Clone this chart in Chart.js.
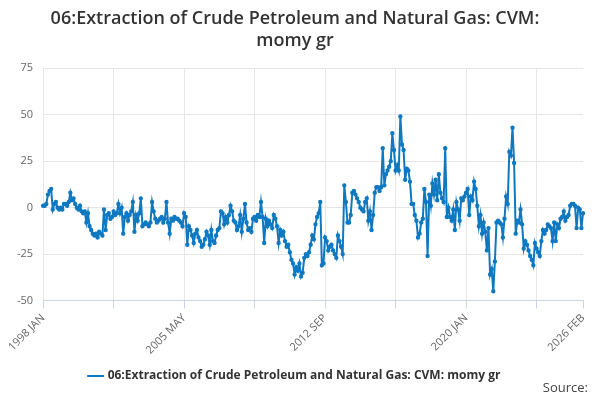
<!DOCTYPE html>
<html>
<head>
<meta charset="utf-8">
<script src="https://cdn.jsdelivr.net/npm/chart.js@4/dist/chart.umd.min.js"></script>
<style>
  html, body { margin: 0; padding: 0; background: #fff; }
  #wrap { position: relative; width: 600px; height: 400px; }
  #source { position: absolute; right: 12px; bottom: 4px; font: 13px "Open Sans", sans-serif; color: #444; }
</style>
</head>
<body>
<div id="wrap">
  <canvas id="chart" width="600" height="400"></canvas>
  <div id="source">Source:</div>
</div>
<script>
const monthNames = ['JAN', 'FEB', 'MAR', 'APR', 'MAY', 'JUN', 'JUL', 'AUG', 'SEP', 'OCT', 'NOV', 'DEC']
const startYear = 1998
const shownTicks = ['1998 JAN', '2005 MAY', '2012 SEP', '2020 JAN', '2026 FEB']

// monthly values, 1998 JAN .. 2026 FEB
const values1998to2005 = [
  1, 1, 2, 7, 9, 10, -1, 2, 3, 0, -1, 0, -1,
  2, 2, 1, 3, 8, 4, 5, 2, 0, -1, 1,
  -2, -3, -2, -8, -3, -10, -12, -14, -15, -14, -16, -13, -14, -15,
  -1, -12, -4, -3, -6, -5, -2, -4, -3, 2, -3, 0,
  -14, -5, -3, -7, -4, -2, 3, -13, -4, -7, -3, 5, -10,
  -9, -8, -9, -10, -8, 3, -2, -6, -8, -7, -6, -5, -8,
  -6, 3, -8, -14, -6, -7, -5, -6, -6, -7, -8, -10
]
const values2005to2013 = [
  -3, -5, -20, -10, -12, -15, -19, -14, -12, -16, -18, -21, -20, -17, -13,
  -15, -20, -12, -18, -19, -15, -12, -11, -2, -3, -9, -5, -8, -4, 1, -2, -7,
  -8, -12, -10, -4, -13, -6, 2, -8, -12, -11, -13, -6, -5, -7, -4, -5, 3, -5,
  -19, -6, -10, -7, -9, -11, -4, -6, -10, -19, -12, -15, -13, -18, -21, -20, -24,
  -28, -30, -36, -32, -34, -30, -37, -35, -27, -25, -26, -24, -20,
  -15, -17, -9, -5, -3, 3, -31, -30, -16, -18, -23, -21, -20, -23
]
const values2013to2019 = [
  -25, -27, -15, -18, -21, -25, 12, 3, -8, -8, -4, 8, 9, 7, 5, 3, 0, -1, -2, 3,
  5, -7, -2, -12, -4, 8, 11, 11, 9, 11, 32, 12, 18, 20, 22, 25, 40, 31, 20, 23,
  20, 49, 34, 31, 15, 21, 20, 14, 2, 2, -4, -7, -16, -14, -8, -6, 10, 3, -26, 7,
  1, 13, 7, 15, 4, 18, 8, 5, 3, 32, -5, 0, -5, -7, -1, -12, 3, -1, -7
]
const values2019to2026 = [
  5, 4, 6, 8, 10, -4, 6, 4, 14, 10, 1, -10, -4, -14, -8, -13, -23, -11, -36, -33,
  -45, -29, -8, -7, -8, -9, -16, -6, 6, 2, 30, 28, 43, 24, -14, -7, -8, -1, -9, -22,
  -18, -20, -23, -26, -28, -31, -19, -22, -24, -26, -18, -12, -14, -12, -9, -10, -11, -18,
  -8, -18, -9, -11, -6, -5, -2, -7, -5, -4, 1, 2, 2, 1, -11, 0, -1, -11, -3
]
const seriesValues = [...values1998to2005, ...values2005to2013, ...values2013to2019, ...values2019to2026]
const monthLabels = seriesValues.map((v, i) => `${startYear + Math.floor(i / 12)} ${monthNames[i % 12]}`)
const yTicks = [-50, -25, 0, 25, 50, 75]

const blue = '#0e78c0'

new Chart(document.getElementById('chart'), {
  type: 'line',
  data: {
    labels: monthLabels,
    datasets: [{
      label: '06:Extraction of Crude Petroleum and Natural Gas: CVM: momy gr',
      data: seriesValues,
      borderColor: blue,
      backgroundColor: blue,
      borderWidth: 2,
      pointRadius: 1.2,
      pointHoverRadius: 3,
      tension: 0
    }]
  },
  options: {
    responsive: false,
    animation: false,
    layout: { padding: { left: 7, right: 17, bottom: 8 } },
    plugins: {
      title: {
        display: true,
        text: ['06:Extraction of Crude Petroleum and Natural Gas: CVM:', 'momy gr'],
        color: '#333',
        font: { family: 'Open Sans', size: 18, weight: '600' },
        padding: { top: 8, bottom: 17 },
        lineHeight: 1.2
      },
      legend: {
        position: 'bottom',
        labels: {
          usePointStyle: true,
          pointStyle: 'line',
          color: '#333',
          font: { family: 'Open Sans', size: 12, weight: 'bold' },
          boxWidth: 20
        }
      },
      tooltip: { enabled: false }
    },
    scales: {
      x: {
        grid: {
          color: (ctx) => (ctx.index % 44 === 0 ? '#e6e6e6' : 'transparent'),
          tickColor: (ctx) => (ctx.index % 44 === 0 || ctx.index === seriesValues.length - 1 ? '#ccd6eb' : 'transparent'),
          tickLength: 8
        },
        border: { color: '#ccd6eb' },
        ticks: {
          autoSkip: false,
          maxRotation: 45,
          minRotation: 45,
          color: '#666',
          font: { family: 'Open Sans', size: 11 },
          callback: function (value) {
            const label = this.getLabelForValue(value)
            return shownTicks.includes(label) ? label : ''
          }
        }
      },
      y: {
        min: -50,
        max: 75,
        afterBuildTicks: (axis) => { axis.ticks = yTicks.map((v) => ({ value: v })) },
        grid: { color: '#e6e6e6', drawTicks: false },
        border: { display: false },
        ticks: { color: '#666', padding: 10, font: { family: 'Open Sans', size: 11 } }
      }
    }
  }
})
</script>
</body>
</html>
